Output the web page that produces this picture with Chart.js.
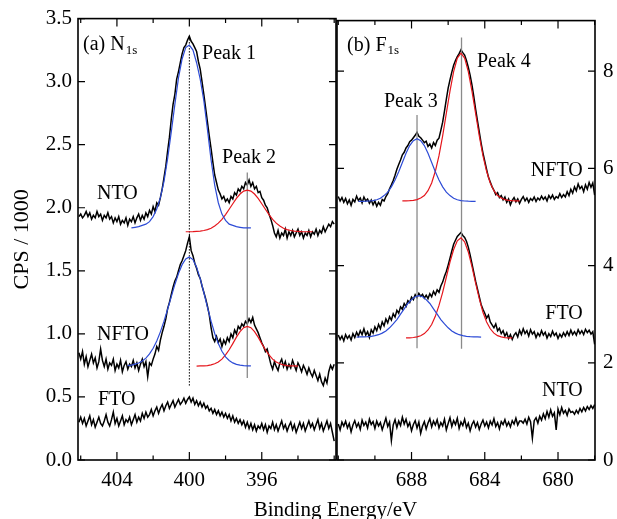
<!DOCTYPE html>
<html>
<head>
<meta charset="utf-8">
<script src="https://cdn.jsdelivr.net/npm/chart.js@4.4.1/dist/chart.umd.min.js"></script>
<style>
  html, body { margin: 0; padding: 0; background: #fff; }
  #wrap { position: relative; width: 617px; height: 519px; overflow: hidden; }
  #left { position: absolute; left: 0; top: 0; }
  #right { position: absolute; left: 334px; top: 0; }
  #xtitle { position: absolute; left: 0; top: 499px; width: 671px; text-align: center;
            font: 21px 'Liberation Serif', 'Times New Roman', serif; line-height: 21px; color: #000; }
</style>
</head>
<body>
<div id="wrap">
  <canvas id="left" width="337" height="519"></canvas>
  <canvas id="right" width="283" height="519"></canvas>
  <div id="xtitle">Binding Energy/eV</div>
</div>
<script>
// ---- (a) N1s panel: spectra sampled every 0.1 eV from 406.1 eV down to 392.0 eV
const startN = 406.1;
const ntoN = [
  1.93,1.95,1.92,1.94,1.97,1.93,1.96,1.91,1.94,1.92,
  1.97,1.93,1.95,1.90,1.94,1.92,1.96,1.91,1.93,1.88,
  1.92,1.89,1.93,1.87,1.90,1.88,1.92,1.86,1.91,1.89,
  1.93,1.88,1.92,1.95,1.90,1.94,1.91,1.96,1.93,1.98,
  1.95,2.01,1.97,2.04,2.02,2.08,2.15,2.24,2.33,2.45,
  2.56,2.70,2.82,2.90,3.02,3.08,3.15,3.22,3.27,3.29,
  3.33,3.36,3.32,3.30,3.27,3.24,3.16,3.10,3.00,2.90,
  2.79,2.68,2.57,2.47,2.36,2.26,2.20,2.14,2.11,2.07,
  2.09,2.05,2.07,2.04,2.09,2.07,2.12,2.10,2.15,2.13,
  2.17,2.15,2.20,2.18,2.22,2.17,2.20,2.15,2.17,2.12,
  2.13,2.08,2.06,2.02,2.00,1.95,1.91,1.86,1.80,1.77,
  1.82,1.76,1.80,1.78,1.83,1.76,1.81,1.78,1.82,1.77,
  1.80,1.83,1.78,1.81,1.76,1.80,1.78,1.82,1.77,1.81,
  1.79,1.83,1.78,1.82,1.80,1.85,1.81,1.84,1.87,1.85,
  1.89,1.87
];
const nftoN = [
  0.85,0.80,0.86,0.76,0.82,0.74,0.79,0.84,0.77,0.81,
  0.73,0.78,0.88,0.79,0.74,0.80,0.72,0.77,0.75,0.80,
  0.71,0.76,0.73,0.79,0.70,0.75,0.78,0.72,0.76,0.74,
  0.79,0.73,0.77,0.71,0.76,0.80,0.74,0.78,0.66,0.77,
  0.75,0.80,0.84,0.90,0.87,0.95,1.01,1.06,1.12,1.20,
  1.25,1.31,1.37,1.42,1.45,1.50,1.55,1.58,1.62,1.66,
  1.72,1.77,1.66,1.62,1.56,1.52,1.47,1.44,1.38,1.33,
  1.28,1.22,1.15,1.05,0.97,0.94,0.98,0.93,0.96,0.90,
  0.95,0.92,0.97,0.94,1.00,0.97,1.03,1.00,1.06,1.04,
  1.08,1.06,1.10,1.08,1.12,1.09,1.13,1.07,1.04,1.01,
  0.97,0.93,0.90,0.86,0.88,0.82,0.76,0.72,0.78,0.74,
  0.71,0.77,0.80,0.74,0.78,0.72,0.76,0.73,0.79,0.75,
  0.71,0.77,0.74,0.70,0.75,0.72,0.68,0.73,0.69,0.66,
  0.71,0.67,0.63,0.68,0.62,0.59,0.65,0.61,0.70,0.75,
  0.72,0.76
];
const ftoN = [
  0.30,0.34,0.29,0.33,0.27,0.31,0.35,0.28,0.32,0.26,
  0.30,0.34,0.29,0.27,0.31,0.36,0.30,0.27,0.32,0.38,
  0.29,0.33,0.27,0.31,0.35,0.28,0.32,0.30,0.34,0.28,
  0.32,0.36,0.30,0.34,0.31,0.37,0.33,0.38,0.34,0.36,
  0.40,0.35,0.39,0.42,0.37,0.41,0.44,0.39,0.43,0.46,
  0.41,0.44,0.47,0.42,0.45,0.48,0.44,0.46,0.49,0.45,
  0.48,0.50,0.46,0.49,0.44,0.47,0.43,0.46,0.42,0.45,
  0.41,0.43,0.39,0.41,0.37,0.40,0.36,0.39,0.35,0.38,
  0.34,0.37,0.33,0.36,0.31,0.35,0.30,0.33,0.29,0.32,
  0.28,0.31,0.26,0.30,0.25,0.29,0.24,0.28,0.23,0.27,
  0.25,0.29,0.24,0.28,0.22,0.27,0.25,0.30,0.24,0.28,
  0.23,0.27,0.31,0.25,0.28,0.23,0.27,0.30,0.24,0.28,
  0.22,0.26,0.30,0.25,0.29,0.23,0.27,0.31,0.26,0.29,
  0.24,0.28,0.32,0.25,0.29,0.23,0.27,0.31,0.25,0.29,
  0.22,0.15
];
// fitted components, every 0.2 eV
const fitNtoPeak1 = { start: 403.2, v: [
  1.84,1.845,1.85,1.86,1.87,1.89,1.93,1.99,2.08,2.21,2.39,2.60,2.82,3.03,3.18,3.27,3.29,
  3.25,3.15,3.02,2.85,2.62,2.38,2.18,2.04,1.95,1.90,1.87,1.86,1.85,1.845,1.84,1.84,1.84] };
const fitNtoPeak2 = { start: 400.2, v: [
  1.81,1.81,1.811,1.813,1.815,1.82,1.827,1.838,1.855,1.878,1.908,1.946,1.988,2.032,2.074,2.109,2.132,
  2.14,2.132,2.109,2.074,2.032,1.988,1.946,1.908,1.878,1.855,1.838,1.827,1.82,1.815,1.813,1.811,1.81,1.81,1.81] };
const fitNftoPeak1 = { start: 403.4, v: [
  0.749,0.753,0.760,0.769,0.785,0.808,0.841,0.886,0.944,1.016,1.101,1.195,1.294,1.392,1.479,1.549,1.594,
  1.61,1.589,1.529,1.438,1.328,1.211,1.101,1.003,0.923,0.862,0.818,0.789,0.770,0.758,0.752,0.748,0.747,0.746] };
const fitNftoPeak2 = { start: 399.6, v: [
  0.745,0.746,0.746,0.749,0.754,0.763,0.777,0.80,0.833,0.874,0.923,0.974,1.018,1.049,
  1.06,1.049,1.018,0.974,0.923,0.874,0.833,0.80,0.777,0.763,0.754,0.749,0.746,0.746,0.745] };
const peakLinesN = [[400.0, 0.59, 3.37], [396.8, 0.65, 2.28]];
const xTicksN = [392, 394, 396, 398, 400, 402, 404, 406];
const xLabelsN = [396, 400, 404];
const yTicksN = [0, 0.5, 1.0, 1.5, 2.0, 2.5, 3.0, 3.5];

// ---- (b) F1s panel: spectra sampled every 0.1 eV from 692.0 eV down to 678.0 eV
const startF = 692.0;
const nftoF = [
  5.42,5.33,5.40,5.30,5.38,5.27,5.35,5.24,5.36,5.31,
  5.43,5.34,5.39,5.29,5.41,5.33,5.37,5.28,5.35,5.25,
  5.33,5.22,5.30,5.24,5.36,5.33,5.42,5.48,5.58,5.66,
  5.75,5.86,5.98,6.08,6.17,6.28,6.33,6.42,6.47,6.55,
  6.58,6.63,6.68,6.74,6.66,6.63,6.58,6.53,6.56,6.45,
  6.50,6.42,6.53,6.47,6.58,6.62,6.78,6.95,7.18,7.42,
  7.65,7.82,7.98,8.12,8.22,8.30,8.36,8.44,8.38,8.33,
  8.22,8.08,7.92,7.72,7.48,7.22,6.98,6.75,6.52,6.32,
  6.15,5.98,5.82,5.72,5.62,5.55,5.46,5.50,5.40,5.44,
  5.35,5.41,5.30,5.37,5.25,5.34,5.40,5.31,5.37,5.28,
  5.36,5.42,5.33,5.39,5.30,5.38,5.34,5.41,5.32,5.39,
  5.35,5.43,5.36,5.41,5.33,5.44,5.38,5.45,5.36,5.42,
  5.39,5.48,5.40,5.46,5.41,5.52,5.44,5.57,5.49,5.62,
  5.54,5.68,5.58,5.63,5.52,5.66,5.57,5.71,5.61,5.70,
  5.45
];
const ftoF = [
  2.57,2.48,2.55,2.45,2.58,2.50,2.56,2.47,2.60,2.52,
  2.63,2.55,2.66,2.58,2.70,2.57,2.64,2.52,2.68,2.61,
  2.74,2.66,2.79,2.70,2.84,2.76,2.90,2.82,2.95,2.88,
  3.01,2.94,3.08,3.02,3.15,3.10,3.22,3.16,3.28,3.24,
  3.35,3.30,3.40,3.34,3.43,3.37,3.41,3.33,3.39,3.32,
  3.42,3.36,3.47,3.40,3.50,3.45,3.58,3.66,3.78,3.88,
  4.01,4.15,4.30,4.44,4.52,4.60,4.64,4.68,4.62,4.58,
  4.50,4.38,4.22,4.04,3.86,3.68,3.52,3.36,3.20,3.10,
  3.02,2.92,2.98,2.84,2.78,2.72,2.80,2.66,2.71,2.60,
  2.66,2.55,2.62,2.50,2.58,2.48,2.57,2.62,2.53,2.67,
  2.58,2.70,2.60,2.66,2.55,2.68,2.59,2.64,2.52,2.61,
  2.55,2.66,2.57,2.63,2.51,2.60,2.54,2.65,2.56,2.61,
  2.50,2.59,2.53,2.62,2.55,2.64,2.56,2.67,2.58,2.64,
  2.57,2.68,2.60,2.66,2.58,2.69,2.62,2.67,2.59,2.64,
  2.38
];
const ntoF = [
  0.74,0.62,0.78,0.70,0.80,0.66,0.75,0.58,0.72,0.81,
  0.68,0.76,0.63,0.82,0.71,0.78,0.66,0.84,0.73,0.79,
  0.65,0.80,0.70,0.77,0.62,0.74,0.86,0.69,0.78,0.40,
  0.72,0.83,0.67,0.80,0.71,0.88,0.74,0.84,0.69,0.77,
  0.60,0.73,0.81,0.66,0.78,0.55,0.70,0.79,0.64,0.76,
  0.85,0.68,0.80,0.72,0.83,0.66,0.77,0.70,0.84,0.62,
  0.75,0.87,0.69,0.81,0.73,0.86,0.65,0.78,0.71,0.84,
  0.67,0.76,0.60,0.73,0.80,0.68,0.77,0.63,0.74,0.82,
  0.70,0.78,0.66,0.80,0.72,0.85,0.69,0.77,0.64,0.79,
  0.73,0.83,0.70,0.78,0.68,0.81,0.74,0.86,0.72,0.80,
  0.80,0.76,0.84,0.74,0.88,0.79,0.45,0.81,0.87,0.76,
  0.90,0.82,0.95,0.85,1.00,0.88,1.03,0.90,0.97,0.62,
  1.05,0.93,1.08,0.96,1.02,0.92,1.05,0.98,1.00,0.94,
  1.02,0.96,1.06,0.99,1.08,1.01,1.10,1.04,1.12,1.06,
  1.14
];
const fitNftoPeak3 = { start: 690.9, v: [
  5.32,5.322,5.324,5.329,5.338,5.355,5.386,5.44,5.51,5.62,5.76,5.93,6.12,6.31,6.47,6.57,
  6.61,6.57,6.47,6.31,6.12,5.93,5.76,5.62,5.51,5.44,5.386,5.355,5.338,5.329,5.324,5.322,5.32] };
const fitNftoPeak4 = { start: 688.5, v: [
  5.331,5.332,5.335,5.342,5.357,5.39,5.44,5.54,5.70,5.94,6.26,6.67,7.13,7.59,7.99,8.27,
  8.37,8.27,7.99,7.59,7.13,6.67,6.26,5.94,5.70,5.54,5.44,5.39,5.357,5.342,5.335,5.332,5.331] };
const fitFtoPeak3 = { start: 691.0, v: [
  2.53,2.532,2.534,2.538,2.545,2.558,2.578,2.61,2.655,2.72,2.80,2.89,3.00,3.11,3.22,3.30,3.36,
  3.38,3.36,3.30,3.22,3.11,3.00,2.89,2.80,2.72,2.655,2.61,2.578,2.558,2.545,2.538,2.534,2.532,2.53] };
const fitFtoPeak4 = { start: 688.3, v: [
  2.511,2.514,2.52,2.533,2.557,2.60,2.675,2.788,2.955,3.18,3.45,3.76,4.07,4.33,4.51,
  4.57,4.49,4.28,3.98,3.64,3.32,3.04,2.84,2.70,2.61,2.558,2.532,2.519,2.514,2.511] };
const peakLinesF = [[687.7, 2.30, 7.10], [685.27, 2.29, 8.69]];
const xTicksF = [678, 680, 682, 684, 686, 688, 690, 692];
const xLabelsF = [680, 684, 688];
const yTicksF = [0, 2, 4, 6, 8];

// text annotations, in data coordinates of their panel
const notesN = [
  { text: '(a) N', sub: '1s', x: 405.87, y: 3.29, align: 'left' },
  { text: 'Peak 1', x: 399.3, y: 3.22, align: 'left' },
  { text: 'Peak 2', x: 398.19, y: 2.40, align: 'left' },
  { text: 'NTO', x: 405.1, y: 2.11, align: 'left' },
  { text: 'NFTO', x: 405.1, y: 0.99, align: 'left' },
  { text: 'FTO', x: 405.05, y: 0.475, align: 'left' }
];
const notesF = [
  { text: '(b) F', sub: '1s', x: 691.52, y: 8.53, align: 'left' },
  { text: 'Peak 4', x: 684.43, y: 8.20, align: 'left' },
  { text: 'Peak 3', x: 689.51, y: 7.38, align: 'left' },
  { text: 'NFTO', x: 678.65, y: 5.95, align: 'right' },
  { text: 'FTO', x: 678.65, y: 3.01, align: 'right' },
  { text: 'NTO', x: 678.65, y: 1.43, align: 'right' }
];

const SERIF = "'Liberation Serif', 'Times New Roman', serif";
const BLUE = '#2d4bd6';
const RED = '#e5161c';

const pts = (vals, start, step) => vals.map((v, i) => ({ x: +(start - step * i).toFixed(2), y: v }));

function line(data, color, width, dash) {
  return { data, borderColor: color, borderWidth: width, borderDash: dash || [],
           showLine: true, pointRadius: 0, tension: 0, fill: false };
}

// frame box, inward ticks on all four sides, and the text notes
const panelDecor = {
  id: 'panelDecor',
  afterDatasetsDraw(chart, args, opts) {
    const { ctx, chartArea: a, scales: { x, y } } = chart;
    ctx.save();
    ctx.strokeStyle = '#000';
    ctx.lineWidth = 1.6;
    ctx.strokeRect(a.left, a.top, a.right - a.left, a.bottom - a.top);
    ctx.lineWidth = 1.2;
    ctx.beginPath();
    x.ticks.forEach(t => {
      const px = x.getPixelForValue(t.value);
      const len = opts.xMajor.includes(t.value) ? 8 : 4.5;
      ctx.moveTo(px, a.bottom); ctx.lineTo(px, a.bottom - len);
      ctx.moveTo(px, a.top); ctx.lineTo(px, a.top + len);
    });
    y.ticks.forEach(t => {
      const py = y.getPixelForValue(t.value);
      ctx.moveTo(a.left, py); ctx.lineTo(a.left + 7, py);
      ctx.moveTo(a.right, py); ctx.lineTo(a.right - 7, py);
    });
    ctx.stroke();

    ctx.fillStyle = '#000';
    ctx.textBaseline = 'middle';
    opts.notes.forEach(n => {
      const px = x.getPixelForValue(n.x);
      const py = y.getPixelForValue(n.y);
      ctx.font = '20px ' + SERIF;
      ctx.textAlign = n.align;
      ctx.fillText(n.text, px, py);
      if (n.sub) {
        const w = ctx.measureText(n.text).width;
        ctx.font = '13px ' + SERIF;
        ctx.textAlign = 'left';
        ctx.fillText(n.sub, px + w + 1, py + 5);
      }
    });
    ctx.restore();
  }
};

function makePanel(canvas, cfg) {
  const datasets = [];
  cfg.fits.forEach(f => datasets.push(line(pts(f.fit.v, f.fit.start, 0.2), f.color, 1.2)));
  cfg.lines.forEach((l, i) => datasets.push(line([{ x: l[0], y: l[1] }, { x: l[0], y: l[2] }],
    cfg.dottedFirst && i === 0 ? '#000' : '#8a8a8a', cfg.dottedFirst && i === 0 ? 1 : 1.3,
    cfg.dottedFirst && i === 0 ? [1.5, 1.5] : [])));
  cfg.spectra.forEach(s => datasets.push(line(pts(s, cfg.start, 0.1), '#000', 1.5)));

  return new Chart(canvas, {
    type: 'scatter',
    data: { datasets },
    plugins: [panelDecor],
    options: {
      responsive: false,
      animation: false,
      events: [],
      devicePixelRatio: 1,
      layout: { padding: cfg.padding },
      plugins: {
        legend: { display: false },
        tooltip: { enabled: false },
        panelDecor: { notes: cfg.notes, xMajor: cfg.xLabels }
      },
      scales: {
        x: {
          type: 'linear', reverse: true, min: cfg.xMin, max: cfg.xMax,
          afterBuildTicks: s => { s.ticks = cfg.xTicks.map(v => ({ value: v })); },
          afterFit: s => { s.height = 59; },
          grid: { display: false, drawTicks: false },
          border: { display: false },
          ticks: {
            color: '#000', font: { family: SERIF, size: 21 }, padding: 8,
            maxRotation: 0, autoSkip: false,
            callback: v => cfg.xLabels.includes(v) ? String(v) : ''
          }
        },
        y: {
          type: 'linear', position: cfg.yPos, min: 0, max: cfg.yMax,
          afterBuildTicks: s => { s.ticks = cfg.yTicks.map(v => ({ value: v })); },
          afterFit: s => { s.width = cfg.yWidth; },
          grid: { display: false, drawTicks: false },
          border: { display: false },
          ticks: {
            color: '#000', font: { family: SERIF, size: 21 }, padding: cfg.yPad,
            callback: v => cfg.yFmt(v)
          },
          title: cfg.yTitle
        }
      }
    }
  });
}

makePanel(document.getElementById('left'), {
  start: startN, spectra: [ntoN, nftoN, ftoN],
  fits: [
    { fit: fitNtoPeak1, color: BLUE }, { fit: fitNtoPeak2, color: RED },
    { fit: fitNftoPeak1, color: BLUE }, { fit: fitNftoPeak2, color: RED }
  ],
  lines: peakLinesN, dottedFirst: true, notes: notesN,
  xMin: 391.9, xMax: 406.15, xTicks: xTicksN, xLabels: xLabelsN,
  yMax: 3.5, yTicks: yTicksN, yPos: 'left', yWidth: 78, yPad: 6,
  yFmt: v => v.toFixed(1),
  yTitle: { display: true, text: 'CPS / 1000', color: '#000',
            font: { family: SERIF, size: 22 }, padding: { top: 9, bottom: 0 } },
  padding: { top: 18, right: 1, left: 0, bottom: 0 }
});

makePanel(document.getElementById('right'), {
  start: startF, spectra: [nftoF, ftoF, ntoF],
  fits: [
    { fit: fitNftoPeak3, color: BLUE }, { fit: fitNftoPeak4, color: RED },
    { fit: fitFtoPeak3, color: BLUE }, { fit: fitFtoPeak4, color: RED }
  ],
  lines: peakLinesF, dottedFirst: false, notes: notesF,
  xMin: 677.98, xMax: 692.07, xTicks: xTicksF, xLabels: xLabelsF,
  yMax: 9.04, yTicks: yTicksF, yPos: 'right', yWidth: 22, yPad: 8,
  yFmt: v => String(v),
  yTitle: { display: false },
  padding: { top: 18, right: 0, left: 3, bottom: 0 }
});
</script>
</body>
</html>
